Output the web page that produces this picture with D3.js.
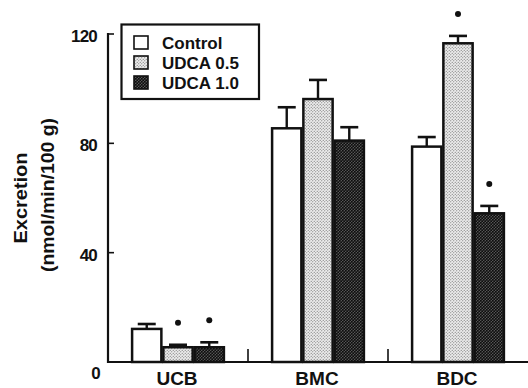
<!DOCTYPE html>
<html><head><meta charset="utf-8">
<script src="https://cdn.jsdelivr.net/npm/d3@7"></script>
<style>body{margin:0;background:#fff}svg{display:block}text{font-family:"Liberation Sans",Arial,sans-serif;font-weight:bold;fill:#111}</style>
</head><body><svg id="c" width="528" height="388"></svg>
<script>
const categories = ["UCB", "BMC", "BDC"];
const seriesNames = ["Control", "UDCA 0.5", "UDCA 1.0"];
const controlVals = [12.1, 85.5, 78.8];
const udca05Vals = [5.4, 96.2, 116.6];
const udca10Vals = [5.4, 81.0, 54.4];
const controlErr = [1.8, 7.7, 3.5];
const udca05Err = [0.9, 7.0, 2.7];
const udca10Err = [1.8, 4.9, 2.7];
const udca05Sig = [true, false, true];
const udca10Sig = [true, false, true];
const yTicks = [0, 40, 80, 120];

(function () {
const svg = d3.select("#c");
const defs = svg.append("defs");
function stipple(id, bg, dot, step, r) {
  const p = defs.append("pattern").attr("id", id).attr("patternUnits", "userSpaceOnUse")
    .attr("width", step).attr("height", step);
  p.append("rect").attr("width", step).attr("height", step).attr("fill", bg);
  p.append("circle").attr("cx", step/4).attr("cy", step/4).attr("r", r).attr("fill", dot);
  p.append("circle").attr("cx", 3*step/4).attr("cy", 3*step/4).attr("r", r).attr("fill", dot);
}
stipple("p05", "#ececec", "#6a6a6a", 3, 0.6);
stipple("p10", "#555", "#0d0d0d", 3, 1.0);
const fills = ["#fff", "url(#p05)", "url(#p10)"];

const mLeft = 108, mRight = 528, mTop = 34, mBottom = 362;
const y = d3.scaleLinear().domain([0, 120]).range([mBottom, mTop]);
const x0 = d3.scaleBand().domain(categories).range([mLeft, mRight]).paddingInner(0.33).paddingOuter(0.165);
const x1 = d3.scaleBand().domain(seriesNames).range([0, x0.bandwidth()]);

const data = categories.map((c, i) => ({
  cat: c,
  bars: [
    {s: seriesNames[0], v: controlVals[i], e: controlErr[i], sig: false},
    {s: seriesNames[1], v: udca05Vals[i], e: udca05Err[i], sig: udca05Sig[i]},
    {s: seriesNames[2], v: udca10Vals[i], e: udca10Err[i], sig: udca10Sig[i]}
  ]
}));

const g = svg.append("g");
data.forEach(d => {
  d.bars.forEach((b, j) => {
    const bx = x0(d.cat) + x1(b.s);
    const cx = bx + x1.bandwidth()/2;
    g.append("line").attr("x1", cx).attr("x2", cx).attr("y1", y(b.v)).attr("y2", y(b.v + b.e))
      .attr("stroke", "#111").attr("stroke-width", 2.4);
    g.append("line").attr("x1", cx - 9).attr("x2", cx + 9).attr("y1", y(b.v + b.e)).attr("y2", y(b.v + b.e))
      .attr("stroke", "#111").attr("stroke-width", 2.6);
    g.append("rect").attr("x", bx + 1).attr("y", y(b.v)).attr("width", x1.bandwidth() - 2)
      .attr("height", y(0) - y(b.v)).attr("fill", fills[j]).attr("stroke", "#111").attr("stroke-width", 2.5);
    if (b.sig) {
      g.append("circle").attr("cx", cx).attr("cy", y(b.v + b.e) - 22).attr("r", 3).attr("fill", "#111");
    }
  });
});

const ax = svg.append("g");
ax.append("line").attr("x1", mLeft).attr("x2", mLeft).attr("y1", y(120) - 1).attr("y2", mBottom + 1)
  .attr("stroke", "#111").attr("stroke-width", 2.2);
ax.append("line").attr("x1", mLeft).attr("x2", mRight).attr("y1", mBottom).attr("y2", mBottom)
  .attr("stroke", "#111").attr("stroke-width", 2.2);
yTicks.forEach(t => {
  if (t > 0) ax.append("line").attr("x1", mLeft).attr("x2", mLeft + 6).attr("y1", y(t)).attr("y2", y(t))
    .attr("stroke", "#111").attr("stroke-width", 1.6);
  ax.append("text").attr("x", t === 0 ? 100 : 97).attr("y", t === 0 ? 379 : y(t) + 8)
    .attr("text-anchor", "end").attr("font-size", 17).attr("letter-spacing", -0.8).text(t);
});
categories.slice(1).forEach(c => {
  const sx = x0(c) - x0.step() * x0.paddingInner() / 2;
  ax.append("line").attr("x1", sx).attr("x2", sx).attr("y1", mBottom).attr("y2", mBottom - 13)
    .attr("stroke", "#111").attr("stroke-width", 1.6);
});
categories.forEach(c => {
  ax.append("text").attr("x", x0(c) + x0.bandwidth()/2 - 1).attr("y", 385).attr("text-anchor", "middle")
    .attr("font-size", 19).text(c);
});

svg.append("text").attr("transform", "translate(27,198) rotate(-90)").attr("text-anchor", "middle")
  .attr("font-size", 18).attr("textLength", 91).attr("lengthAdjust", "spacingAndGlyphs").text("Excretion");
svg.append("text").attr("transform", "translate(54,195) rotate(-90)").attr("text-anchor", "middle")
  .attr("font-size", 18).attr("textLength", 154).attr("lengthAdjust", "spacingAndGlyphs").text("(nmol/min/100 g)");

const lg = svg.append("g");
lg.append("rect").attr("x", 121.5).attr("y", 24.5).attr("width", 137.5).attr("height", 74.5)
  .attr("fill", "#fff").attr("stroke", "#111").attr("stroke-width", 2.2);
seriesNames.forEach((s, i) => {
  const ry = 43 + i * 20;
  lg.append("rect").attr("x", 134).attr("y", ry - 7).attr("width", 14).attr("height", 13)
    .attr("fill", fills[i]).attr("stroke", "#111").attr("stroke-width", 1.6);
  lg.append("text").attr("x", 162).attr("y", ry + 6).attr("font-size", 17).text(s);
});
})();
</script></body></html>
